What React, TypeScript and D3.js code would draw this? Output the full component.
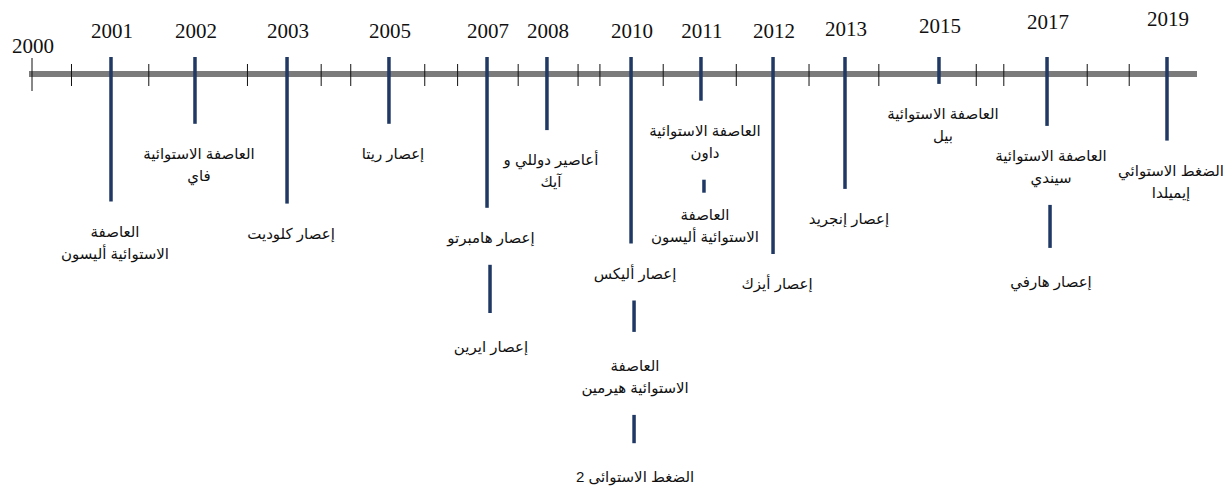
import React, { useRef, useEffect } from 'react';
import * as d3 from 'd3';

const years = [2000, 2001, 2002, 2003, 2005, 2007, 2008, 2010, 2011, 2012, 2013, 2015, 2017, 2019];
// where each year sits along the drawn line (share of its length) - the line is not to scale
const yearAt = [0, 0.0696, 0.1436, 0.2247, 0.3145, 0.4009, 0.4537, 0.5278, 0.5894, 0.6529, 0.7163, 0.7991, 0.8943, 1];
const minorTicks = [2000.5, 2001.45, 2002.57, 2003.67, 2004.25, 2005.73, 2006.4, 2007.52, 2008.74, 2009.26,
  2010.46, 2011.49, 2012.5, 2013.72, 2015.69, 2016.2, 2017.67, 2018.37];

// events, top to bottom inside each year
const eventYears = [2001, 2002, 2003, 2005, 2007, 2007, 2008, 2010, 2010, 2010, 2011, 2011, 2012, 2013, 2015, 2017, 2017, 2019];
const eventLabels = [
  ['العاصفة', 'الاستوائية أليسون'],
  ['العاصفة الاستوائية', 'فاي'],
  ['إعصار كلوديت'],
  ['إعصار ريتا'],
  ['إعصار هامبرتو'],
  ['إعصار ايرين'],
  ['أعاصير دوللي و', 'آيك'],
  ['إعصار أليكس'],
  ['العاصفة', 'الاستوائية هيرمين'],
  ['الضغط الاستوائى 2'],
  ['العاصفة الاستوائية', 'داون'],
  ['العاصفة', 'الاستوائية أليسون'],
  ['إعصار أيزك'],
  ['إعصار إنجريد'],
  ['العاصفة الاستوائية', 'بيل'],
  ['العاصفة الاستوائية', 'سيندي'],
  ['إعصار هارفي'],
  ['الضغط الاستوائي', 'إيميلدا'],
];
// how far below the line each label sits, in text rows
const eventDepth = [7.5, 3.8, 7.6, 3.8, 7.8, 13, 4.1, 9.5, 13.9, 19.2, 2.7, 6.7, 10, 6.9, 1.9, 3.9, 9.9, 4.6];

const Timeline = ({ width, height }) => {
  const ref = useRef();

  useEffect(() => {
    const svg = d3.select(ref.current)
      .attr("width", width)
      .attr("height", height)
      .style("background-color", "white");

    svg.select('g').remove();
    const g = svg.append('g');

    const left = 32, right = 1167, axisY = 74;
    const x = d3.scaleLinear()
      .domain(years)
      .range(yearAt.map(f => left + f * (right - left)));
    const row = d3.scaleLinear().domain([0, 20]).range([axisY, axisY + 20 * 21]);
    const labelBase = d3.scaleLinear().domain([2012, 2019]).range([38, 26]).clamp(true);
    const lineH = 22;
    const navy = "#1f3864";
    const arabic = "Arial, 'Liberation Sans', 'DejaVu Sans', sans-serif";

    // main line
    g.append('line')
      .attr('x1', left - 3).attr('x2', right + 30)
      .attr('y1', axisY).attr('y2', axisY)
      .style('stroke', '#7b7b7b')
      .style('stroke-width', 6);

    // small ticks
    g.append('g').selectAll('line')
      .data(minorTicks)
      .enter()
      .append('line')
      .attr('x1', d => x(d)).attr('x2', d => x(d))
      .attr('y1', axisY - 10).attr('y2', axisY + 12)
      .style('stroke', '#111')
      .style('stroke-width', 1);

    const hasEvents = new Set(eventYears);

    // tick for a year with nothing in it
    g.append('g').selectAll('line')
      .data(years.filter(y => !hasEvents.has(y)))
      .enter()
      .append('line')
      .attr('x1', d => x(d)).attr('x2', d => x(d))
      .attr('y1', axisY - 16).attr('y2', axisY + 17)
      .style('stroke', '#111')
      .style('stroke-width', 1);

    // year labels
    g.append('g').selectAll('text')
      .data(years)
      .enter()
      .append('text')
      .attr('x', d => x(d) + 1)
      .attr('y', d => hasEvents.has(d) ? labelBase(d) : 53)
      .attr('text-anchor', 'middle')
      .style('font-family', "'Liberation Serif', 'Times New Roman', serif")
      .style('font-size', '21px')
      .style('fill', '#111')
      .text(d => d);

    // stems and labels
    const stems = [];
    const labels = [];
    let prevYear = null, prevBottom = 0;
    eventYears.forEach((yr, i) => {
      const cy = row(eventDepth[i]);
      const lines = eventLabels[i];
      if (yr !== prevYear) {
        stems.push({ x: x(yr), y1: axisY - 17, y2: cy - 30 });
      } else {
        const y1 = prevBottom + 27;
        stems.push({ x: x(yr) + 3, y1, y2: Math.max(y1 + 13, cy - 34) });
      }
      lines.forEach((t, j) => labels.push({ x: x(yr) + 4, y: cy + j * lineH, t }));
      prevYear = yr;
      prevBottom = cy + (lines.length - 1) * lineH;
    });

    g.append('g').selectAll('line')
      .data(stems)
      .enter()
      .append('line')
      .attr('x1', d => d.x).attr('x2', d => d.x)
      .attr('y1', d => d.y1).attr('y2', d => d.y2)
      .style('stroke', navy)
      .style('stroke-width', 3.5);

    g.append('g').selectAll('text')
      .data(labels)
      .enter()
      .append('text')
      .attr('x', d => d.x)
      .attr('y', d => d.y)
      .attr('dy', '0.35em')
      .attr('direction', 'rtl')
      .attr('text-anchor', 'middle')
      .style('font-family', arabic)
      .style('font-size', '15px')
      .style('fill', '#111')
      .text(d => d.t);
  }, [width, height]);

  return (
    <svg ref={ref} style={{ position: 'absolute', left: 0, top: 0 }}>
    </svg>
  );
};

export default function App() {
  return <Timeline width={1223} height={488} />;
}
